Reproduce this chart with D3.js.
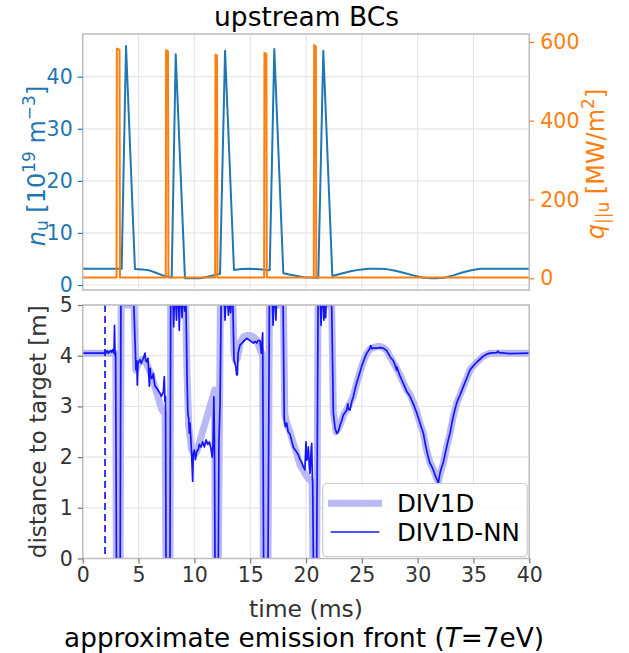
<!DOCTYPE html>
<html><head><meta charset="utf-8">
<script src="https://cdn.jsdelivr.net/npm/d3@7"></script>
<style>body{margin:0;background:#fff} text{font-family:"DejaVu Sans",sans-serif}</style>
</head><body><svg id="c" width="629" height="653"></svg>
<script>
// ---------- data ----------
const timeTicks = [0,5,10,15,20,25,30,35,40];
const nuTicks = [0,10,20,30,40];
const qTicks = [0,200,400,600];
const distTicks = [0,1,2,3,4,5];
const startTime = 2.0;

// upstream density n_u [1e19 m^-3]
const nuSeries = [[0,3.1],[3.49,3.1],[3.88,45.9],[4.68,3.07],[5.3,3.0],[5.9,2.85],[6.5,2.4],[7.1,1.9],[7.6,1.6],[7.97,1.45],[8.33,44.3],[9.16,1.28],[10.0,1.28],[10.5,1.3],[11.1,1.55],[11.6,1.8],[12.0,2.05],[12.3,2.1],[12.75,45.0],[13.55,2.9],[14.2,3.05],[14.8,3.13],[15.6,3.07],[16.3,2.95],[16.75,2.85],[17.16,45.3],[17.97,2.25],[18.6,1.95],[19.2,1.73],[19.8,1.5],[20.4,1.42],[21.1,1.4],[21.55,45.0],[22.36,1.73],[23.2,2.2],[24.0,2.65],[24.8,2.95],[25.6,3.1],[26.4,3.13],[27.2,3.05],[28.0,2.75],[28.8,2.3],[29.6,1.85],[30.4,1.45],[31.2,1.3],[31.7,1.28],[32.4,1.4],[33.2,1.85],[34.0,2.4],[34.8,2.85],[35.6,3.1],[36.5,3.13],[40,3.13]];

// upstream parallel heat flux q_||u [MW/m^2]
const qSeries = [[0,2],[3.03,2],[3.06,583],[3.3,580],[3.34,2],[7.44,2],[7.47,579],[7.64,576],[7.68,2],[11.86,2],[11.89,568],[12.03,565],[12.07,2],[16.25,2],[16.28,572],[16.45,569],[16.49,2],[20.7,2],[20.73,592],[20.88,589],[20.92,2],[40,2]];

// DIV1D emission front distance to target [m]
const div1dSeries = [[0,4.05],[2.97,4.05],[3.01,0],[3.35,0],[3.45,5],[4.6,5],[4.75,3.72],[5.0,3.85],[5.3,3.92],[5.7,3.85],[6.18,3.6],[6.63,3.27],[7.08,2.94],[7.38,2.85],[7.45,0],[7.82,0],[7.88,5],[9.22,5],[9.35,3.6],[9.5,2.6],[9.75,2.15],[10.0,2.05],[10.2,2.1],[10.8,2.55],[11.4,3.0],[11.82,3.32],[11.87,0],[12.15,0],[12.33,5],[13.45,5],[13.55,4.05],[13.7,3.9],[13.85,3.95],[14.1,4.25],[14.4,4.37],[14.7,4.4],[15.0,4.4],[15.3,4.37],[15.6,4.3],[15.9,4.12],[16.12,4.0],[16.18,0],[16.6,0],[16.72,5],[17.98,5],[18.1,2.85],[18.3,2.65],[18.57,2.5],[18.9,2.25],[19.2,2.05],[19.46,1.85],[19.9,1.68],[20.2,1.58],[20.55,1.5],[20.62,0],[20.96,0],[21.08,5],[22.3,5],[22.45,2.9],[22.7,2.5],[23.05,2.63],[23.4,2.85],[23.8,3.0],[24.24,3.2],[24.54,3.46],[24.84,3.68],[25.13,3.88],[25.44,4.04],[25.73,4.13],[26.03,4.16],[26.33,4.18],[26.63,4.18],[26.93,4.16],[27.23,4.1],[27.52,3.98],[28.1,3.76],[28.42,3.62],[29.0,3.33],[29.31,3.24],[29.61,3.08],[29.91,2.9],[30.21,2.67],[30.51,2.47],[30.8,2.14],[31.1,1.9],[31.4,1.76],[31.7,1.58],[31.85,1.52],[32.0,1.66],[32.3,1.88],[32.6,2.2],[32.9,2.47],[33.19,2.8],[33.49,3.06],[33.79,3.22],[34.09,3.39],[34.39,3.55],[34.69,3.72],[34.99,3.8],[35.28,3.87],[35.58,3.93],[35.88,3.99],[36.48,4.05],[40,4.05]];

// DIV1D-NN emission front distance to target [m]
const nnSeries = [[0,4.05],[1.9,4.05],[2.0,4.08],[2.1,4.06],[2.2,4.1],[2.3,4.05],[2.5,4.1],[2.6,4.07],[2.7,4.12],[2.8,4.05],[2.85,4.6],[2.9,4.0],[2.95,4.05],[3.02,0],[3.36,0],[3.42,5],[4.58,5],[4.7,4.2],[4.77,3.72],[4.85,3.9],[4.89,3.42],[4.95,3.85],[5.13,3.92],[5.25,3.85],[5.43,3.95],[5.58,4.05],[5.65,3.9],[5.73,3.88],[5.85,3.95],[5.97,3.4],[6.05,3.75],[6.09,3.6],[6.2,3.55],[6.33,3.65],[6.4,3.5],[6.48,3.4],[6.63,3.36],[6.8,3.3],[6.92,3.26],[7.05,3.2],[7.22,3.28],[7.31,3.59],[7.36,3.1],[7.42,3.2],[7.46,0],[7.82,0],[7.88,5],[8.1,5],[8.15,4.57],[8.2,5],[8.35,5],[8.4,4.7],[8.45,5],[8.6,5],[8.65,4.5],[8.7,5],[8.85,5],[8.9,4.75],[8.95,5],[9.1,5],[9.15,4.88],[9.2,5],[9.25,5],[9.35,3.5],[9.42,2.86],[9.5,2.75],[9.55,2.47],[9.61,2.67],[9.7,2.3],[9.75,2.1],[9.85,1.52],[9.9,2.05],[10.0,2.14],[10.1,1.95],[10.2,2.1],[10.35,2.15],[10.45,2.25],[10.6,2.2],[10.75,2.3],[10.9,2.2],[11.05,2.34],[11.2,2.25],[11.35,2.3],[11.5,2.15],[11.6,2.0],[11.68,2.3],[11.75,3.19],[11.8,2.3],[11.85,0],[12.15,0],[12.2,2.3],[12.3,3.0],[12.4,5],[12.7,5],[12.75,4.7],[12.8,5],[13.0,5],[13.05,4.8],[13.1,5],[13.2,5],[13.25,4.85],[13.3,5],[13.45,5],[13.55,3.92],[13.7,3.8],[13.79,3.62],[13.85,3.62],[13.92,4.05],[14.09,4.21],[14.39,4.28],[14.69,4.34],[14.99,4.3],[15.28,4.25],[15.45,4.28],[15.58,4.25],[15.7,4.3],[15.88,4.3],[16.0,4.05],[16.12,4.45],[16.2,0],[16.6,0],[16.72,5],[17.0,5],[17.05,4.6],[17.1,5],[17.25,5],[17.3,4.7],[17.35,5],[17.95,5],[18.05,2.75],[18.15,2.6],[18.27,2.67],[18.4,2.5],[18.57,2.45],[18.7,2.34],[18.86,2.2],[19.0,2.15],[19.16,2.1],[19.3,2.05],[19.46,1.95],[19.6,1.9],[19.76,1.81],[19.9,1.75],[20.0,2.3],[20.06,1.94],[20.15,2.0],[20.21,2.2],[20.3,1.8],[20.36,1.68],[20.45,2.1],[20.51,2.27],[20.57,1.6],[20.6,1.48],[20.66,0],[20.96,0],[21.08,5],[21.3,5],[21.35,4.6],[21.4,5],[21.55,5],[21.6,4.7],[21.65,5],[21.72,5],[21.76,4.75],[21.8,5],[22.3,5],[22.45,2.86],[22.6,2.57],[22.75,2.47],[22.89,2.5],[23.05,2.63],[23.2,2.72],[23.34,2.83],[23.5,2.88],[23.65,2.93],[23.75,3.05],[23.8,2.95],[23.94,2.93],[24.1,3.1],[24.24,3.19],[24.4,3.35],[24.54,3.46],[24.7,3.58],[24.84,3.68],[25.0,3.8],[25.13,3.88],[25.3,3.98],[25.44,4.05],[25.6,4.1],[25.73,4.15],[25.8,4.2],[25.9,4.14],[26.03,4.15],[26.33,4.15],[26.63,4.16],[26.93,4.15],[27.23,4.1],[27.52,3.98],[27.82,3.9],[28.0,3.8],[28.1,3.72],[28.12,3.78],[28.42,3.6],[28.72,3.45],[29.01,3.3],[29.31,3.2],[29.61,3.05],[29.91,2.88],[30.21,2.67],[30.51,2.47],[30.65,2.3],[30.8,2.14],[30.95,2.0],[31.1,1.88],[31.25,1.82],[31.4,1.75],[31.55,1.65],[31.7,1.57],[31.8,1.52],[31.85,1.48],[31.95,1.62],[32.0,1.68],[32.15,1.8],[32.3,1.9],[32.45,2.05],[32.6,2.2],[32.75,2.35],[32.9,2.47],[33.05,2.65],[33.19,2.8],[33.35,2.95],[33.49,3.06],[33.64,3.15],[33.79,3.22],[34.09,3.39],[34.39,3.55],[34.69,3.72],[34.99,3.8],[35.28,3.87],[35.58,3.93],[35.88,3.99],[36.18,4.03],[36.48,4.05],[37.08,4.06],[37.2,4.09],[37.3,4.06],[38.27,4.04],[40,4.05]];

const legendLabels = ["DIV1D","DIV1D-NN"];

// ---------- layout ----------
const L = 82.7, R = 529.3;
const topT = 34, topB = 290, botT = 305, botB = 558.5;
const cBlue = "#1f77b4", cOrange = "#ff7f0e", cNN = "#1414ff", cDiv = "#b9b9f6";
const frameC = "#bdbdbd", gridC = "#e6e6e6", tickC = "#333";
const tickFont = 20.5;

const svg = d3.select("#c");
const x = d3.scaleLinear().domain([0,40]).range([L,R]);
const yN = d3.scaleLinear().domain([-0.96,48.2]).range([topB,topT]);
const yQ = d3.scaleLinear().domain([-29.7,620]).range([topB,topT]);
const yD = d3.scaleLinear().domain([0,5]).range([botB,botT]);

const defs = svg.append("defs");
defs.append("clipPath").attr("id","clipTop").append("rect").attr("x",L).attr("y",topT).attr("width",R-L).attr("height",topB-topT);
defs.append("clipPath").attr("id","clipBot").append("rect").attr("x",L).attr("y",botT).attr("width",R-L).attr("height",botB-botT);

function styleAxis(g, color, size){
  g.select(".domain").remove();
  g.selectAll(".tick line").attr("stroke",color).attr("stroke-width",1.2);
  g.selectAll(".tick text").attr("fill",color).attr("font-size",size).attr("font-family","DejaVu Sans");
}
const fmt = d3.format("d");

// ---- top panel ----
const gT = svg.append("g");
gT.selectAll(".vg").data(timeTicks).join("line").attr("x1",d=>x(d)).attr("x2",d=>x(d)).attr("y1",topT).attr("y2",topB).attr("stroke",gridC).attr("stroke-width",1.2);
gT.selectAll(".hg").data(nuTicks).join("line").attr("x1",L).attr("x2",R).attr("y1",d=>yN(d)).attr("y2",d=>yN(d)).attr("stroke",gridC).attr("stroke-width",1.2);

const lineN = d3.line().x(d=>x(d[0])).y(d=>yN(d[1]));
const lineQ = d3.line().x(d=>x(d[0])).y(d=>yQ(d[1]));
const gTc = gT.append("g").attr("clip-path","url(#clipTop)");
gTc.append("path").datum(nuSeries).attr("d",lineN).attr("fill","none").attr("stroke",cBlue).attr("stroke-width",2).attr("stroke-linejoin","round");
gTc.append("path").datum(qSeries).attr("d",lineQ).attr("fill","none").attr("stroke",cOrange).attr("stroke-width",2).attr("stroke-linejoin","round");

gT.append("rect").attr("x",L).attr("y",topT).attr("width",R-L).attr("height",topB-topT).attr("fill","none").attr("stroke",frameC).attr("stroke-width",1.5);

const axNu = gT.append("g").attr("transform",`translate(${L},0)`).call(d3.axisLeft(yN).tickValues(nuTicks).tickFormat(fmt).tickSize(5).tickPadding(5));
styleAxis(axNu, cBlue, tickFont);
const axQ = gT.append("g").attr("transform",`translate(${R},0)`).call(d3.axisRight(yQ).tickValues(qTicks).tickFormat(fmt).tickSize(5).tickPadding(6));
styleAxis(axQ, cOrange, tickFont);

// title
svg.append("text").attr("x",(L+R)/2 + 0.5).attr("y",26).attr("text-anchor","middle").attr("font-size",26.5).attr("fill","#000").text("upstream BCs");

// left label n_u [10^19 m^-3]
const tl = svg.append("text").attr("transform",`translate(45,${(topT+topB)/2 + 4}) rotate(-90)`).attr("text-anchor","middle").attr("font-size",24).attr("fill",cBlue);
tl.append("tspan").attr("font-style","italic").text("n");
tl.append("tspan").attr("font-size",17).attr("dy",3).text("u");
tl.append("tspan").attr("dy",-3).text(" [10");
tl.append("tspan").attr("font-size",17).attr("dy",-10).text("19");
tl.append("tspan").attr("dy",10).text(" m");
tl.append("tspan").attr("font-size",17).attr("dy",-10).text("\u22123");
tl.append("tspan").attr("dy",10).text("]");

// right label q_||u [MW/m^2]
const tr = svg.append("text").attr("transform",`translate(604,${(topT+topB)/2 + 2}) rotate(-90)`).attr("text-anchor","middle").attr("font-size",24).attr("fill",cOrange);
tr.append("tspan").attr("font-style","italic").text("q");
tr.append("tspan").attr("font-size",17).attr("dy",5).text("||u");
tr.append("tspan").attr("dy",-5).text(" [MW/m");
tr.append("tspan").attr("font-size",17).attr("dy",-10).text("2");
tr.append("tspan").attr("dy",10).text("]");

// ---- bottom panel ----
const gB = svg.append("g");
gB.selectAll(".vg").data(timeTicks).join("line").attr("x1",d=>x(d)).attr("x2",d=>x(d)).attr("y1",botT).attr("y2",botB).attr("stroke",gridC).attr("stroke-width",1.2);
gB.selectAll(".hg").data(distTicks).join("line").attr("x1",L).attr("x2",R).attr("y1",d=>yD(d)).attr("y2",d=>yD(d)).attr("stroke",gridC).attr("stroke-width",1.2);

const lineD = d3.line().x(d=>x(d[0])).y(d=>yD(d[1]));
const gBc = gB.append("g").attr("clip-path","url(#clipBot)");
gBc.append("path").datum(div1dSeries).attr("d",lineD).attr("fill","none").attr("stroke",cDiv).attr("stroke-width",7).attr("stroke-linejoin","round");
gBc.append("path").datum(nnSeries).attr("d",lineD).attr("fill","none").attr("stroke",cNN).attr("stroke-width",1.7).attr("stroke-linejoin","round");
gBc.append("line").attr("x1",x(startTime)).attr("x2",x(startTime)).attr("y1",botT).attr("y2",botB).attr("stroke",cNN).attr("stroke-width",1.7).attr("stroke-dasharray","7,4");

gB.append("rect").attr("x",L).attr("y",botT).attr("width",R-L).attr("height",botB-botT).attr("fill","none").attr("stroke",frameC).attr("stroke-width",1.5);

const axD = gB.append("g").attr("transform",`translate(${L},0)`).call(d3.axisLeft(yD).tickValues(distTicks).tickFormat(fmt).tickSize(5).tickPadding(5));
styleAxis(axD, tickC, tickFont);
axD.selectAll(".tick line").attr("stroke","#777");
const axT = gB.append("g").attr("transform",`translate(0,${botB})`).call(d3.axisBottom(x).tickValues(timeTicks).tickFormat(fmt).tickSize(5).tickPadding(4));
styleAxis(axT, tickC, tickFont);
axT.selectAll(".tick line").attr("stroke","#777");

svg.append("text").attr("x",(L+R)/2).attr("y",617).attr("text-anchor","middle").attr("font-size",23.5).attr("fill","#333").text("time (ms)");
svg.append("text").attr("transform",`translate(46,${(botT+botB)/2}) rotate(-90)`).attr("text-anchor","middle").attr("font-size",23).attr("fill","#333").text("distance to target [m]");

const cap = svg.append("text").attr("x",(L+R)/2 - 2).attr("y",647).attr("text-anchor","middle").attr("font-size",26.3).attr("fill","#000");
cap.append("tspan").text("approximate emission front (");
cap.append("tspan").attr("font-style","italic").text("T");
cap.append("tspan").text("=7eV)");

// legend
const lg = svg.append("g");
lg.append("rect").attr("x",322.7).attr("y",483.5).attr("width",204.6).attr("height",73).attr("rx",4).attr("fill","#fff").attr("fill-opacity",0.85).attr("stroke","#cccccc").attr("stroke-width",1.2);
lg.append("line").attr("x1",328).attr("x2",382).attr("y1",503.3).attr("y2",503.3).attr("stroke",cDiv).attr("stroke-width",7);
lg.append("line").attr("x1",330.7).attr("x2",379.3).attr("y1",532).attr("y2",532).attr("stroke",cNN).attr("stroke-width",1.7);
lg.append("text").attr("x",397).attr("y",512).attr("font-size",24.5).attr("fill","#000").text(legendLabels[0]);
lg.append("text").attr("x",397).attr("y",541).attr("font-size",24.5).attr("fill","#000").text(legendLabels[1]);
</script></body></html>
